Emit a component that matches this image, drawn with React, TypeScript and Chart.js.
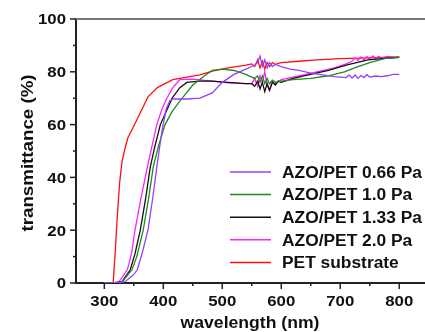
import React, { useEffect, useRef } from "react";
import { Chart, registerables } from "chart.js";

Chart.register(...registerables);

const legendLabels = ["AZO/PET 0.66 Pa", "AZO/PET 1.0 Pa", "AZO/PET 1.33 Pa", "AZO/PET 2.0 Pa", "PET substrate"];
const seriesColors = ["#9440ff", "#1f8a1f", "#111111", "#ff22ff", "#ff1010"];
const xTickValues = [300, 400, 500, 600, 700, 800];
const yTickValues = [0, 20, 40, 60, 80, 100];
const xTitle = "wavelength (nm)";
const yTitle = "transmittance (%)";

const wl066 = [300, 320, 335, 349, 356, 365, 374, 382, 389, 398, 405, 411, 417, 440, 462, 483, 500, 520, 540, 550, 555, 560, 564, 568, 572, 576, 580, 585, 590, 600, 615, 630, 650, 670, 690, 700, 710, 715, 720, 725, 730, 735, 740, 745, 750, 760, 770, 780, 790, 800];
const t066 = [0, 0, 0.5, 3, 5, 12, 20, 32, 44, 58, 66, 69, 69.7, 69.7, 70, 72, 76, 79, 81, 82, 82.5, 83.5, 86, 82, 84.5, 81.5, 83.5, 82, 82.8, 82, 81, 80.5, 79.5, 78.8, 78.2, 78, 77.8, 78.8, 77.6, 78.8, 77.5, 78.6, 77.8, 78.9, 78, 78.4, 78.2, 78.5, 79, 79];

const wl10 = [300, 320, 330, 347, 355, 366, 375, 383, 392, 403, 415, 432, 450, 470, 483, 500, 520, 540, 550, 555, 560, 564, 568, 572, 576, 580, 585, 590, 600, 620, 650, 680, 707, 730, 750, 775, 800];
const t10 = [0, 0, 0.3, 5, 10, 20, 32, 44, 52, 60, 65, 70, 75, 78.5, 80.5, 81, 80.5, 79, 78, 77.5, 78.5, 76, 78.5, 75.5, 77.5, 75.5, 76.8, 76, 76.5, 77, 77.5, 78.5, 80, 82, 83.5, 85, 85.5];

const wl133 = [300, 318, 330, 344, 352, 361, 370, 378, 386, 395, 405, 415, 428, 440, 460, 483, 510, 540, 550, 555, 560, 564, 568, 572, 576, 580, 585, 590, 595, 600, 620, 650, 680, 710, 747, 770, 800];
const t133 = [0, 0, 0.5, 5, 11, 20, 32, 44, 52, 60, 65, 70, 74, 76, 76.5, 76.5, 76, 75.5, 75.5, 74.5, 76.5, 73.5, 76, 72.5, 75.5, 73, 76, 75, 76.5, 76, 77.5, 79, 80.5, 82.5, 84.5, 85, 85.5];

const wl20 = [300, 316, 325, 339, 346, 352, 362, 373, 381, 389, 398, 406, 416, 428, 450, 483, 510, 540, 550, 555, 560, 564, 568, 572, 576, 580, 585, 590, 600, 630, 660, 690, 710, 720, 725, 730, 735, 740, 745, 750, 755, 760, 765, 770, 780, 790, 800];
const t20 = [0, 0, 0.5, 5, 11, 20, 32, 44, 52, 60, 66, 70, 74, 77, 77.2, 76.5, 75.8, 75.5, 75.5, 77.5, 74.5, 78.5, 76, 80, 75, 73, 76.5, 75.5, 77, 78.5, 80, 81.5, 83, 84, 85.2, 84.3, 85.6, 84.5, 85.8, 84.8, 86, 85, 85.9, 85.2, 85.8, 85.6, 85.5];

const wlPet = [300, 310, 315, 318, 322, 326, 330, 334, 340, 349, 360, 374, 390, 416, 440, 462, 483, 510, 540, 550, 555, 560, 564, 568, 572, 576, 580, 585, 590, 600, 630, 660, 700, 730, 760, 800];
const tPet = [0, 0, 0, 10, 25, 38, 46, 50, 55, 59, 64, 70.5, 74, 77, 78, 78.8, 80.3, 81.5, 82.5, 83, 82, 84.5, 81.5, 84, 81, 83.5, 82, 83.5, 82.8, 83.5, 84, 84.5, 85, 85.2, 85.4, 85.6];

const wls = [wl066, wl10, wl133, wl20, wlPet];
const ts = [t066, t10, t133, t20, tPet];

const FONT = "'Liberation Sans', Arial, sans-serif";

function stretchText(ctx: any, text: string, x: number, y: number, size: number, sx: number, align: string) {
  ctx.save();
  ctx.font = `bold ${size}px ${FONT}`;
  ctx.textBaseline = "alphabetic";
  ctx.textAlign = "left";
  const w = ctx.measureText(text).width * sx;
  let x0 = x;
  if (align === "center") x0 = x - w / 2;
  else if (align === "right") x0 = x - w;
  ctx.translate(x0, y);
  ctx.scale(sx, 1);
  ctx.fillText(text, 0, 0);
  ctx.restore();
}

const framePlugin = {
  id: "frame",
  afterDraw(chart: any) {
    const ctx = chart.ctx;
    const { left, right, top, bottom } = chart.chartArea;
    const xs = chart.scales.x;
    const ys = chart.scales.y;
    ctx.save();
    ctx.strokeStyle = "#777777";
    ctx.lineWidth = 2;
    ctx.beginPath();
    ctx.moveTo(left, top);
    ctx.lineTo(right + 2, top);
    ctx.stroke();
    ctx.strokeStyle = "#222222";
    ctx.lineWidth = 1.5;
    for (let v = 0; v <= 100; v += 10) {
      const y = ys.getPixelForValue(v);
      const len = v % 20 === 0 ? 6 : 3;
      ctx.beginPath();
      ctx.moveTo(left, y);
      ctx.lineTo(left - len, y);
      ctx.stroke();
    }
    for (let v = 300; v <= 800; v += 50) {
      const x = xs.getPixelForValue(v);
      const len = v % 100 === 0 ? 6 : 3;
      ctx.beginPath();
      ctx.moveTo(x, bottom);
      ctx.lineTo(x, bottom + len);
      ctx.stroke();
    }
    ctx.fillStyle = "#111111";
    yTickValues.forEach((v) => {
      stretchText(ctx, String(v), left - 10, ys.getPixelForValue(v) + 5.4, 15, 1.12, "right");
    });
    xTickValues.forEach((v) => {
      stretchText(ctx, String(v), xs.getPixelForValue(v), bottom + 23, 15, 1.12, "center");
    });
    stretchText(ctx, xTitle, (left + right) / 2, 328, 16, 1.1, "center");
    ctx.save();
    ctx.translate(33, (top + bottom) / 2 + 2);
    ctx.rotate(-Math.PI / 2);
    stretchText(ctx, yTitle, 0, 0, 16, 1.17, "center");
    ctx.restore();
    legendLabels.forEach((label, i) => {
      const y = 172 + i * 22.6;
      ctx.strokeStyle = seriesColors[i];
      ctx.lineWidth = 1.5;
      ctx.beginPath();
      ctx.moveTo(230, y);
      ctx.lineTo(271, y);
      ctx.stroke();
      ctx.fillStyle = "#111111";
      stretchText(ctx, label, 282, y + 5.8, 16, 1.085, "left");
    });
    ctx.restore();
  },
};

export default function App() {
  const ref = useRef<HTMLCanvasElement | null>(null);
  useEffect(() => {
    if (!ref.current) return;
    const datasets = ts.map((vals, i) => ({
      label: legendLabels[i],
      data: vals.map((v, j) => ({ x: wls[i][j], y: v })),
      borderColor: seriesColors[i],
      backgroundColor: seriesColors[i],
      borderWidth: 1.3,
      pointRadius: 0,
      tension: 0,
      fill: false,
    }));
    const chart = new Chart(ref.current, {
      type: "line",
      data: { datasets },
      options: {
        animation: false,
        responsive: false,
        devicePixelRatio: 1,
        layout: { padding: { top: 19, right: 1, left: 0, bottom: 0 } },
        plugins: { legend: { display: false }, tooltip: { enabled: false } },
        scales: {
          x: {
            type: "linear",
            min: 252,
            max: 842,
            afterBuildTicks: (s: any) => {
              s.ticks = xTickValues.map((v) => ({ value: v }));
            },
            afterFit: (s: any) => {
              s.height = 49;
            },
            grid: { display: false },
            border: { display: true, color: "#222222", width: 2 },
            ticks: { display: false },
            title: { display: false },
          },
          y: {
            type: "linear",
            min: 0,
            max: 100,
            afterBuildTicks: (s: any) => {
              s.ticks = yTickValues.map((v) => ({ value: v }));
            },
            afterFit: (s: any) => {
              s.width = 76;
            },
            grid: { display: false },
            border: { display: true, color: "#222222", width: 2 },
            ticks: { display: false },
            title: { display: false },
          },
        },
      },
      plugins: [framePlugin],
    });
    return () => chart.destroy();
  }, []);
  return (
    <div style={{ position: "fixed", left: 0, top: 0, width: 425, height: 332, background: "#fff" }}>
      <canvas ref={ref} width={425} height={332} />
    </div>
  );
}
